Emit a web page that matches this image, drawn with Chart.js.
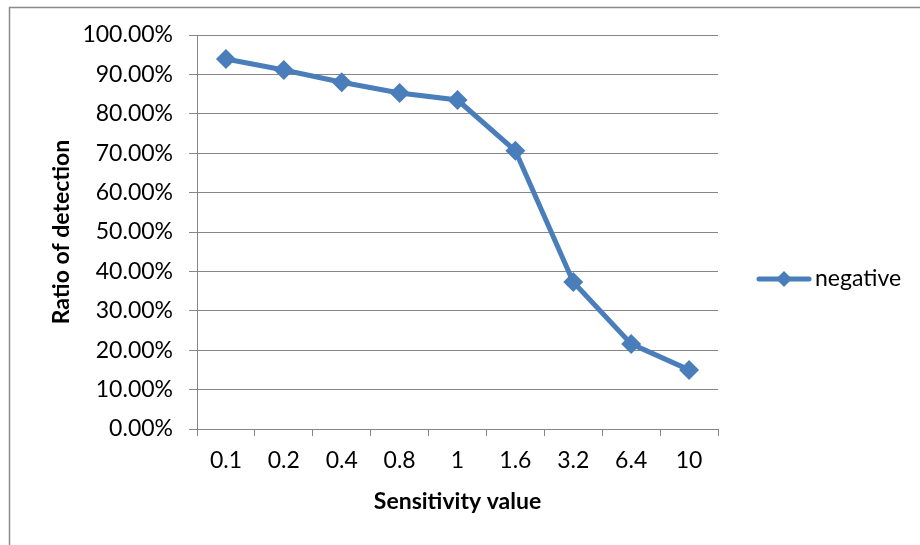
<!DOCTYPE html>
<html>
<head>
<meta charset="utf-8">
<script src="https://cdn.jsdelivr.net/npm/chart.js@4"></script>
<style>
  html, body { margin: 0; padding: 0; background: #fff; }
  #wrap { width: 920px; height: 545px; position: relative; }
</style>
</head>
<body>
<div id="wrap"><canvas id="c" width="920" height="545"></canvas></div>
<script>
// Sensitivity setting vs. detection ratio (percent)
const sensitivityValues = ['0.1', '0.2', '0.4', '0.8', '1', '1.6', '3.2', '6.4', '10'];
const negativeRatio = [93.9, 91.1, 88.0, 85.3, 83.5, 70.6, 37.3, 21.6, 15.0];
const seriesName = 'negative';
const yTitle = 'Ratio of detection';
const xTitle = 'Sensitivity value';

const LINE_BLUE = '#4A7EBB';
const GRID_GREY = '#868686';
const FONT = 'Lato, "Open Sans", sans-serif';
const FONT_SIZE = 23;

// Frame around the chart and a right-hand legend entry (line + diamond)
const framePlugin = {
  id: 'frame',
  beforeDraw(chart) {
    const ctx = chart.ctx;
    ctx.save();
    ctx.fillStyle = '#fff';
    ctx.fillRect(0, 0, chart.width, chart.height);
    ctx.strokeStyle = '#8a8a8a';
    ctx.lineWidth = 1.5;
    ctx.beginPath();
    ctx.moveTo(9.5, chart.height + 2);
    ctx.lineTo(9.5, 7.5);
    ctx.lineTo(chart.width + 2, 7.5);
    ctx.stroke();
    ctx.restore();
  },
  afterDraw(chart) {
    const ds = chart.data.datasets[0];
    const ctx = chart.ctx;
    const y = 279;
    ctx.save();
    ctx.strokeStyle = ds.borderColor;
    ctx.lineWidth = ds.borderWidth;
    ctx.lineCap = 'round';
    ctx.beginPath();
    ctx.moveTo(759, y);
    ctx.lineTo(809, y);
    ctx.stroke();
    ctx.fillStyle = ds.pointBackgroundColor;
    const r = 8;
    ctx.beginPath();
    ctx.moveTo(784, y - r);
    ctx.lineTo(784 + r, y);
    ctx.lineTo(784, y + r);
    ctx.lineTo(784 - r, y);
    ctx.closePath();
    ctx.fill();
    ctx.fillStyle = '#000';
    ctx.font = FONT_SIZE + 'px ' + FONT;
    ctx.textBaseline = 'middle';
    ctx.fillText(ds.label, 815, y);
    ctx.restore();
  }
};

new Chart(document.getElementById('c'), {
  type: 'line',
  data: {
    labels: sensitivityValues,
    datasets: [{
      label: seriesName,
      data: negativeRatio,
      borderColor: LINE_BLUE,
      backgroundColor: LINE_BLUE,
      pointBackgroundColor: LINE_BLUE,
      pointBorderColor: LINE_BLUE,
      borderWidth: 5,
      pointStyle: 'rectRot',
      pointRadius: 10,
      pointBorderWidth: 0,
      tension: 0,
      fill: false
    }]
  },
  options: {
    responsive: false,
    animation: false,
    devicePixelRatio: 1,
    layout: { padding: { left: 48, right: 202, top: 35, bottom: 30 } },
    plugins: {
      legend: { display: false },
      tooltip: { enabled: false }
    },
    scales: {
      x: {
        type: 'category',
        offset: true,
        grid: {
          offset: true,
          drawOnChartArea: false,
          drawTicks: true,
          tickLength: 7,
          color: GRID_GREY,
          lineWidth: 1
        },
        border: { color: GRID_GREY, width: 1 },
        ticks: {
          color: '#000',
          font: { family: FONT, size: FONT_SIZE },
          padding: 11,
          maxRotation: 0,
          autoSkip: false
        },
        title: {
          display: true,
          text: xTitle,
          color: '#000',
          font: { family: FONT, size: FONT_SIZE, weight: 'bold' },
          padding: { top: 8, bottom: 0 }
        },
        afterFit(scale) { scale.height = 86; }
      },
      y: {
        min: 0,
        max: 100,
        ticks: {
          stepSize: 10,
          color: '#000',
          font: { family: FONT, size: FONT_SIZE },
          padding: 16,
          callback: v => v.toFixed(2) + '%'
        },
        grid: {
          color: GRID_GREY,
          lineWidth: 1,
          drawTicks: true,
          tickLength: 8
        },
        border: { color: GRID_GREY, width: 1 },
        title: {
          display: true,
          text: yTitle,
          color: '#000',
          font: { family: FONT, size: FONT_SIZE, weight: 'bold' },
          padding: { top: 0, bottom: 0 }
        },
        afterFit(scale) { scale.width = 149; }
      }
    }
  },
  plugins: [framePlugin]
});
</script>
</body>
</html>
